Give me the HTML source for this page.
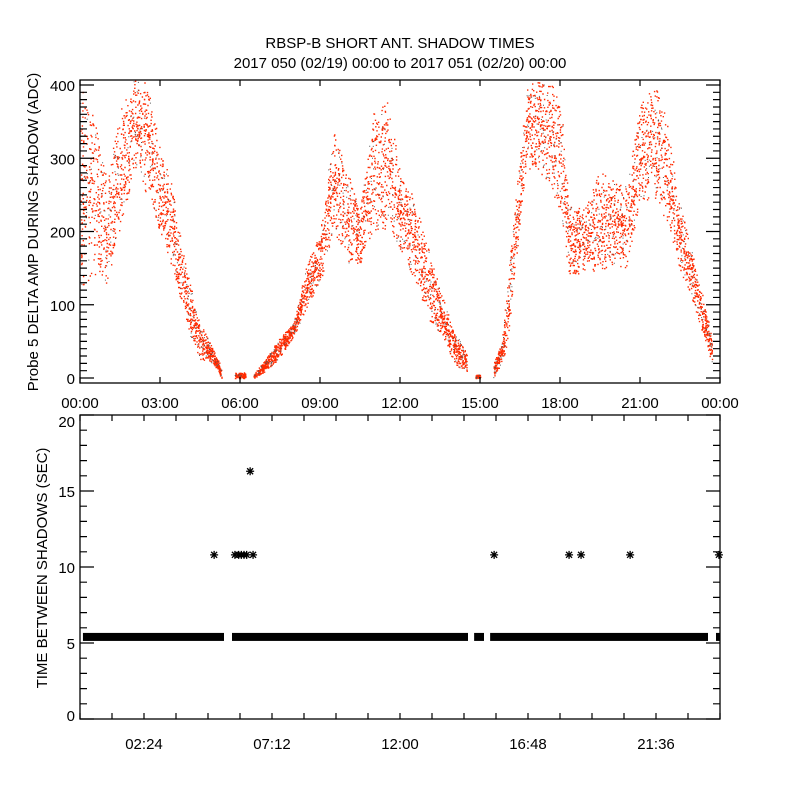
<!DOCTYPE html>
<html><head><meta charset="utf-8"><style>
html,body{margin:0;padding:0;background:#fff;}
svg{display:block;font-family:"Liberation Sans",sans-serif;}
text{fill:#000;font-size:15px;}
</style></head><body>
<svg id="c" width="800" height="800" viewBox="0 0 800 800">
<text x="400" y="48" text-anchor="middle">RBSP-B SHORT ANT. SHADOW TIMES</text>
<text x="400" y="68" text-anchor="middle">2017 050 (02/19) 00:00 to 2017 051 (02/20) 00:00</text>
<text transform="translate(38,232) rotate(-90)" text-anchor="middle">Probe 5 DELTA AMP DURING SHADOW (ADC)</text>
<text transform="translate(47,568) rotate(-90)" text-anchor="middle">TIME BETWEEN SHADOWS (SEC)</text>
<g id="gtop"></g>
<g id="gbot"></g>
</svg>
<script>
// ---- top panel data (hour, low, high envelope of scatter) ----
const ampHours = [0,0.5,1,1.5,2,2.5,3,3.5,4,4.5,5,5.3, 5.8,6.2, 6.5,7,7.5,8,8.5,9,9.5,10,10.5,11,11.5,12,12.5,13,13.5,14,14.5, 14.8,15.0, 15.5,15.8,16,16.3,16.5,16.75,17,17.5,18,18.3,18.5,19,19.5,20,20.5,21,21.5,22,22.5,23,23.5,23.7];
const ampLow  = [124,138,130,200,284,250,192,147,70,25,20,0, 0,0, 0,11,29,56,97,130,202,157,157,202,202,175,138,83,61,20,8, 0,0, 1,20,42,147,216,284,288,270,229,138,138,147,147,157,147,247,239,216,147,102,42,20];
const ampHigh = [407,362,270,366,406,407,315,256,147,75,38,15, 8,8, 5,29,56,75,157,202,338,284,233,362,380,284,247,184,120,66,34, 5,5, 20,48,124,239,307,397,407,403,393,247,229,239,284,284,261,375,407,352,239,165,89,50];
const gapStarts = [5.3, 6.2, 14.5, 15.0]; // no data after these hours
// ---- bottom panel data ----
const bandStart = [0.11,5.7,14.78,15.38,23.85];
const bandEnd   = [5.4,14.55,15.15,23.55,24.0];
const bandValue = 5.4;
const starHours = [5.03,5.81,5.95,6.05,6.15,6.25,6.49,15.53,18.34,18.79,20.63,23.96];
const starValues= [10.8,10.8,10.8,10.8,10.8,10.8,10.8,10.8,10.8,10.8,10.8,10.8];
const outlierHours=[6.38]; const outlierValues=[16.3];
const topYTicks=[0,100,200,300,400];
const topXLabels=["00:00","03:00","06:00","09:00","12:00","15:00","18:00","21:00","00:00"];
const botYTicks=[0,5,10,15,20];
const botXLabels=["02:24","07:12","12:00","16:48","21:36"];

const NS="http://www.w3.org/2000/svg";
function el(tag,attrs,parent){const e=document.createElementNS(NS,tag);for(const k in attrs)e.setAttribute(k,attrs[k]);parent.appendChild(e);return e;}
const L=80,R=720;
const xT=h=>L+h/24*(R-L);
const TT=80,TB=383;
const yA=v=>378-v*0.7325;
const BT=415,BB=719;
const yB=v=>BB-v*(BB-BT)/20;

const gTop=document.getElementById('gtop'), gBot=document.getElementById('gbot');

let seed=12345;function rnd(){seed=(seed*16807)%2147483647;return seed/2147483647;}
let dR="",dK="";
for(let i=0;i<ampHours.length-1;i++){
  const h0=ampHours[i],h1=ampHours[i+1];
  if(gapStarts.some(b=>Math.abs(b-h0)<1e-6)) continue;
  const w=(xT(h1)-xT(h0));
  const n=Math.round(w*11);
  for(let k=0;k<n;k++){
    const t=rnd();const h=h0+(h1-h0)*t;
    const lo=ampLow[i]+(ampLow[i+1]-ampLow[i])*t, hi=ampHigh[i]+(ampHigh[i+1]-ampHigh[i])*t;
    const u=(rnd()+rnd())/2;
    const v=lo+(hi-lo)*(rnd()<0.5?rnd():u);
    const x=xT(h), y=yA(v);
    if(y<TT||y>TB-1.5)continue;
    if(rnd()<0.1) dK+=`M${x.toFixed(1)} ${y.toFixed(1)}h1v1h-1z`; else dR+=`M${x.toFixed(1)} ${y.toFixed(1)}h1.4v1.4h-1.4z`;
  }
}
const pr=el('path',{d:dR,fill:'#ff2a00'},gTop);


const pk=el('path',{d:dK,fill:'#555'},gTop);



function frame(g,t,b,name){const r=el('rect',{x:L,y:t,width:R-L,height:b-t,fill:'none',stroke:'#000','stroke-width':1.3},g);

}
frame(gTop,TT,TB,'amp-plot-frame');frame(gBot,BT,BB,'time-plot-frame');

let tk="";
for(let v=0;v<=400;v+=10){const y=yA(v);const len=v%100==0?14:7;tk+=`M${L} ${y}h${len}M${R} ${y}h${-len}`;}
for(let i=0;i<=8;i++){const x=xT(i*3);tk+=`M${x} ${TB}v-6M${x} ${TT}v6`;}
for(let v=0;v<=20;v++){const y=yB(v);const len=v%5==0?14:7;tk+=`M${L} ${y}h${len}M${R} ${y}h${-len}`;}
for(let i=0;i<=20;i++){const x=xT(i*1.2);tk+=`M${x} ${BB}v-6M${x} ${BT}v6`;}
const tp=el('path',{d:tk,stroke:'#000','stroke-width':1.2,fill:'none'},gTop);



topYTicks.forEach(v=>{const t=el('text',{x:75,y:yA(v)+6,'text-anchor':'end'},gTop);t.textContent=v;

});
topXLabels.forEach((s,i)=>{const t=el('text',{x:xT(i*3),y:408,'text-anchor':'middle'},gTop);t.textContent=s;

});
botYTicks.forEach(v=>{const t=el('text',{x:75,y:yB(v)+(v==20?12:v==0?2:6),'text-anchor':'end'},gBot);t.textContent=v;

});
botXLabels.forEach((s,i)=>{const t=el('text',{x:xT(2.4+i*4.8),y:749,'text-anchor':'middle'},gBot);t.textContent=s;

});

bandStart.forEach((s,i)=>{const r=el('rect',{x:xT(s),y:yB(bandValue)-4,width:xT(bandEnd[i])-xT(s),height:8,fill:'#000'},gBot);

});
function star(h,v){const x=xT(h),y=yB(v);const p=el('path',{d:`M${x-4} ${y}h8M${x} ${y-4}v8M${x-3} ${y-3}l6 6M${x+3} ${y-3}l-6 6`,stroke:'#000','stroke-width':1.3},gBot);

}
starHours.forEach((h,i)=>star(h,starValues[i]));
outlierHours.forEach((h,i)=>star(h,outlierValues[i]));
</script>
</body></html>
